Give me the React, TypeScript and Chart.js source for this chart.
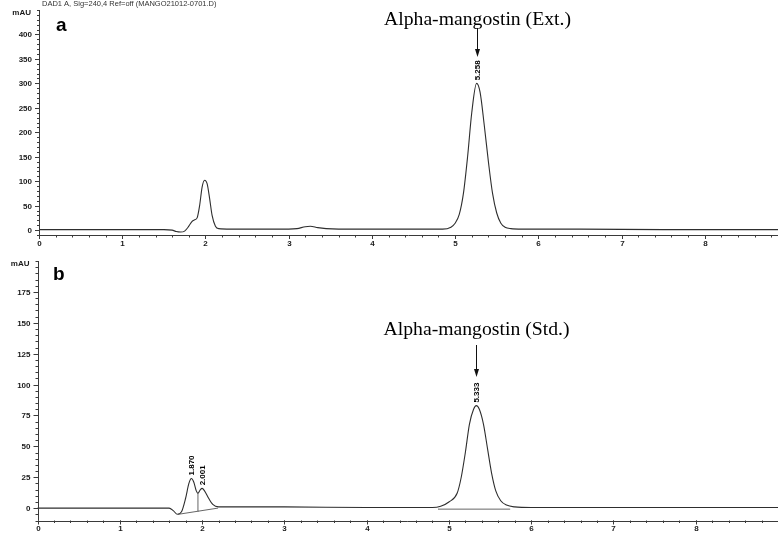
import React, { useEffect, useRef } from "react";
import { Chart, registerables } from "chart.js";
Chart.register(...registerables);

// ---------- data ----------
const headerText = "DAD1 A, Sig=240,4 Ref=off (MANGO21012-0701.D)";
const xTickValues = [0, 1, 2, 3, 4, 5, 6, 7, 8];
const yTicksA = [0, 50, 100, 150, 200, 250, 300, 350, 400];
const yTicksB = [0, 25, 50, 75, 100, 125, 150, 175];

// Panel a: extract chromatogram (time in min, signal in mAU)
const timeA = [0, 0.5, 1.0, 1.5, 1.6, 1.65, 1.7, 1.75, 1.8, 1.84, 1.87, 1.9, 1.93, 1.96, 1.99, 2.02, 2.05, 2.08, 2.12, 2.16, 2.3, 3.0, 3.1, 3.2, 3.26, 3.35, 3.45, 3.6, 4.5, 4.85, 4.95, 5.0, 5.05, 5.1, 5.15, 5.2, 5.258, 5.3, 5.35, 5.4, 5.45, 5.5, 5.55, 5.6, 5.67, 5.8, 6.5, 7.5, 8.88];
const signalA = [1, 1, 1, 1, 0, -3, -4, -2, 8, 18, 21, 25, 50, 88, 102, 95, 65, 30, 8, 3, 2, 2, 3, 7, 8, 5, 3, 2, 2, 2, 6, 14, 32, 75, 150, 240, 300, 282, 215, 140, 75, 35, 14, 6, 3, 2, 2, 1, 1];

// Panel b: alpha-mangostin standard
const timeB = [0, 0.5, 1.0, 1.5, 1.6, 1.65, 1.7, 1.75, 1.8, 1.84, 1.87, 1.9, 1.93, 1.95, 1.98, 2.001, 2.03, 2.08, 2.13, 2.2, 3.0, 4.0, 4.8, 4.9, 5.0, 5.1, 5.15, 5.2, 5.25, 5.3, 5.333, 5.37, 5.42, 5.47, 5.52, 5.57, 5.63, 5.7, 5.8, 6.0, 7.0, 9.0];
const signalB = [0, 0, 0, 0, 0, -2, -5, -3, 8, 20, 24, 21, 14, 12, 15, 16, 14, 8, 3, 1, 1, 0.5, 0.5, 1.5, 5, 12, 25, 45, 68, 80, 83, 80, 68, 48, 28, 14, 6, 2.5, 1, 0.5, 0.5, 0.5];

// integration baselines (panel b)
const baseline1B = [{ x: 1.71, y: -5 }, { x: 2.19, y: 0 }];
const dropLineB = [{ x: 1.95, y: -2.5 }, { x: 1.95, y: 12 }];
const baseline2B = [{ x: 4.87, y: -0.8 }, { x: 5.74, y: -0.8 }];

// peak labels
const peakTimesA = [5.258];
const peakHeightsA = [300];
const peakTextsA = ["5.258"];
const peakTimesB = [1.87, 2.001, 5.333];
const peakHeightsB = [24, 16, 83];
const peakTextsB = ["1.870", "2.001", "5.333"];

const annotationA = "Alpha-mangostin (Ext.)";
const annotationB = "Alpha-mangostin (Std.)";

type PanelCfg = {
  id: string;
  top: number;
  height: number;
  padLeft: number;
  padTop: number;
  padBottom: number;
  xMax: number;
  yMin: number;
  yMax: number;
  yTicks: number[];
  yMinor: number;
  letter: string;
  letterX: number;
  letterY: number;
  letterSize: number;
  header?: string;
  annotation: string;
  annY: number;
  arrowTop: number;
  arrowBottom: number;
  mainPeakIndex: number;
  times: number[];
  signals: number[];
  peakTimes: number[];
  peakHeights: number[];
  peakTexts: string[];
  extraLines: { x: number; y: number }[][];
};

const panels: PanelCfg[] = [
  {
    id: "a",
    top: 0,
    height: 255,
    padLeft: 39,
    padTop: 10,
    padBottom: 20,
    xMax: 8.88,
    yMin: -10,
    yMax: 450,
    yTicks: yTicksA,
    yMinor: 10,
    letter: "a",
    letterX: 56,
    letterY: 31,
    letterSize: 19,
    header: headerText,
    annotation: annotationA,
    annY: 25,
    arrowTop: 28,
    arrowBottom: 57,
    mainPeakIndex: 0,
    times: timeA,
    signals: signalA,
    peakTimes: peakTimesA,
    peakHeights: peakHeightsA,
    peakTexts: peakTextsA,
    extraLines: [],
  },
  {
    id: "b",
    top: 255,
    height: 282,
    padLeft: 37.5,
    padTop: 6,
    padBottom: 16.5,
    xMax: 9.0,
    yMin: -10,
    yMax: 200,
    yTicks: yTicksB,
    yMinor: 5,
    letter: "b",
    letterX: 53,
    letterY: 25,
    letterSize: 19,
    annotation: annotationB,
    annY: 80,
    arrowTop: 90,
    arrowBottom: 122,
    mainPeakIndex: 2,
    times: timeB,
    signals: signalB,
    peakTimes: peakTimesB,
    peakHeights: peakHeightsB,
    peakTexts: peakTextsB,
    extraLines: [baseline1B, dropLineB, baseline2B],
  },
];

const AXIS_COLOR = "#3a3a3a";
const TRACE_COLOR = "#2e2e2e";
const TEXT_COLOR = "#1a1a1a";

function makePlugin(p: PanelCfg) {
  return {
    id: "decor_" + p.id,
    afterDraw(chart: any) {
      const { ctx, chartArea } = chart;
      const { left, top, bottom } = chartArea;
      const xs = chart.scales.x;
      const ys = chart.scales.y;
      ctx.save();
      ctx.strokeStyle = AXIS_COLOR;
      ctx.fillStyle = TEXT_COLOR;
      ctx.lineWidth = 1;
      // axes
      ctx.beginPath();
      ctx.moveTo(Math.round(left) + 0.5, top);
      ctx.lineTo(Math.round(left) + 0.5, bottom);
      ctx.moveTo(left, Math.round(bottom) + 0.5);
      ctx.lineTo(chart.width, Math.round(bottom) + 0.5);
      ctx.stroke();
      // y minor ticks
      ctx.beginPath();
      for (let v = p.yMin; v <= p.yMax + 1e-6; v += p.yMinor) {
        const py = Math.round(ys.getPixelForValue(v)) + 0.5;
        if (py < top) continue;
        ctx.moveTo(left - 2, py);
        ctx.lineTo(left + 1, py);
      }
      ctx.stroke();
      // y major ticks + labels
      ctx.font = "bold 8px Arial, 'Liberation Sans', sans-serif";
      ctx.textAlign = "right";
      ctx.textBaseline = "middle";
      ctx.beginPath();
      p.yTicks.forEach((v) => {
        const py = Math.round(ys.getPixelForValue(v)) + 0.5;
        ctx.moveTo(left - 4, py);
        ctx.lineTo(left + 1, py);
        ctx.fillText(String(v), left - 7, py);
      });
      ctx.stroke();
      ctx.fillText("mAU", left - 8, top + 3);
      // x minor ticks
      ctx.beginPath();
      for (let v = 0; v <= p.xMax + 1e-6; v += 0.2) {
        const px = Math.round(xs.getPixelForValue(v)) + 0.5;
        ctx.moveTo(px, bottom);
        ctx.lineTo(px, bottom + 2.5);
      }
      ctx.stroke();
      // x major ticks + labels
      ctx.textAlign = "center";
      ctx.textBaseline = "middle";
      ctx.beginPath();
      xTickValues.forEach((v) => {
        const px = Math.round(xs.getPixelForValue(v)) + 0.5;
        ctx.moveTo(px, bottom);
        ctx.lineTo(px, bottom + 4);
        ctx.fillText(String(v), px, bottom + 8.5);
      });
      ctx.stroke();
      // header
      if (p.header) {
        ctx.font = "7.5px Arial, 'Liberation Sans', sans-serif";
        ctx.textAlign = "left";
        ctx.textBaseline = "alphabetic";
        ctx.fillStyle = "#333";
        ctx.fillText(p.header, 42, 6);
      }
      // panel letter
      ctx.fillStyle = "#000";
      ctx.font = `bold ${p.letterSize}px Arial, 'Liberation Sans', sans-serif`;
      ctx.textAlign = "left";
      ctx.textBaseline = "alphabetic";
      ctx.fillText(p.letter, p.letterX, p.letterY);
      // peak labels (rotated)
      ctx.font = "bold 8px Arial, 'Liberation Sans', sans-serif";
      p.peakTimes.forEach((t, i) => {
        const px = xs.getPixelForValue(t);
        const py = ys.getPixelForValue(p.peakHeights[i]);
        ctx.save();
        ctx.translate(px + 3, py - 3);
        ctx.rotate(-Math.PI / 2);
        ctx.textAlign = "left";
        ctx.textBaseline = "alphabetic";
        ctx.fillText(p.peakTexts[i], 0, 0);
        ctx.restore();
      });
      // annotation + arrow
      const mi = p.mainPeakIndex;
      const ax = Math.round(xs.getPixelForValue(p.peakTimes[mi])) + 0.5;
      ctx.font = "19.7px 'Liberation Serif', 'Times New Roman', serif";
      ctx.textAlign = "center";
      ctx.textBaseline = "alphabetic";
      ctx.fillText(p.annotation, ax, p.annY);
      ctx.strokeStyle = "#111";
      ctx.beginPath();
      ctx.moveTo(ax, p.arrowTop);
      ctx.lineTo(ax, p.arrowBottom - 2);
      ctx.stroke();
      ctx.fillStyle = "#111";
      ctx.beginPath();
      ctx.moveTo(ax, p.arrowBottom);
      ctx.lineTo(ax - 2.5, p.arrowBottom - 8);
      ctx.lineTo(ax + 2.5, p.arrowBottom - 8);
      ctx.closePath();
      ctx.fill();
      ctx.restore();
    },
  };
}

function Panel({ p }: { p: PanelCfg }) {
  const ref = useRef<HTMLCanvasElement | null>(null);
  useEffect(() => {
    if (!ref.current) return;
    const traceData = p.times.map((t, i) => ({ x: t, y: p.signals[i] }));
    const datasets: any[] = [
      {
        data: traceData,
        borderColor: TRACE_COLOR,
        borderWidth: 1.1,
        pointRadius: 0,
        cubicInterpolationMode: "monotone",
        fill: false,
      },
    ];
    p.extraLines.forEach((seg) => {
      datasets.push({
        data: seg,
        borderColor: "#555",
        borderWidth: 0.9,
        pointRadius: 0,
        tension: 0,
        fill: false,
      });
    });
    const chart = new Chart(ref.current, {
      type: "line",
      data: { datasets },
      options: {
        animation: false,
        responsive: false,
        maintainAspectRatio: false,
        layout: {
          padding: { left: p.padLeft, right: 0, top: p.padTop, bottom: p.padBottom },
        },
        plugins: { legend: { display: false }, tooltip: { enabled: false } },
        scales: {
          x: { type: "linear", min: 0, max: p.xMax, display: false },
          y: { type: "linear", min: p.yMin, max: p.yMax, display: false },
        },
        elements: { line: { borderCapStyle: "round" } },
      },
      plugins: [makePlugin(p)],
    } as any);
    return () => chart.destroy();
  }, [p]);
  return (
    <canvas
      ref={ref}
      width={778}
      height={p.height}
      style={{ position: "absolute", left: 0, top: p.top, width: 778, height: p.height }}
    />
  );
}

export default function App() {
  return (
    <div
      style={{
        position: "absolute",
        left: 0,
        top: 0,
        width: 778,
        height: 537,
        background: "#fff",
        overflow: "hidden",
      }}
    >
      {panels.map((p) => (
        <Panel key={p.id} p={p} />
      ))}
    </div>
  );
}
